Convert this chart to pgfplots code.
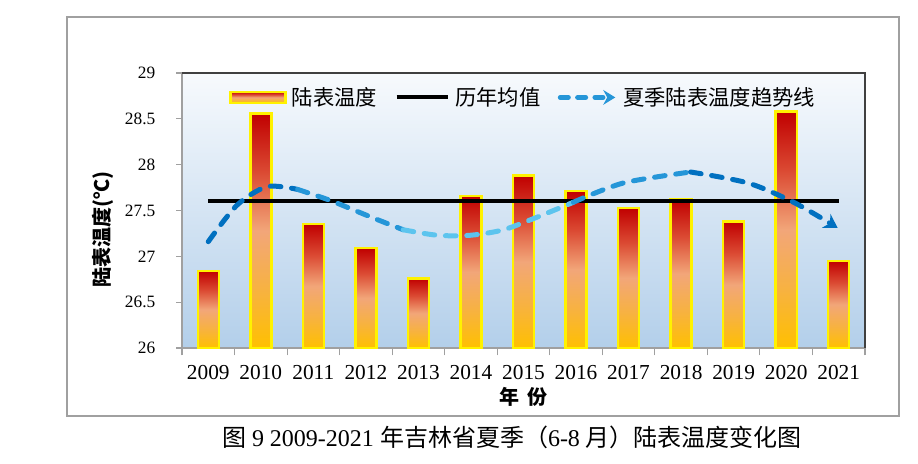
\documentclass[border=0pt]{standalone}
\usepackage{pgfplots}
\pgfplotsset{compat=1.18}
\usepackage{fontspec}
\setmainfont{Liberation Serif}
\newfontfamily\cjk{Noto Sans CJK SC}
\usetikzlibrary{arrows.meta}
\definecolor{barA}{HTML}{FFC000}
\definecolor{barB}{HTML}{F7B241}
\definecolor{barC}{HTML}{F2A679}
\definecolor{barD}{HTML}{DB4A33}
\definecolor{barE}{HTML}{C00000}
\definecolor{bgtop}{HTML}{F7FAFD}
\definecolor{bgbot}{HTML}{B3CFEA}
\definecolor{trA}{HTML}{0070C0}
\definecolor{trB}{HTML}{2596D8}
\definecolor{trC}{HTML}{5CC4EE}
\definecolor{axgray}{HTML}{A0A0A0}
\definecolor{axdark}{HTML}{404040}
\pgfdeclareverticalshading{barshade}{100bp}{color(0bp)=(barA); color(25bp)=(barA); color(37.5bp)=(barB); color(50bp)=(barC); color(62.5bp)=(barD); color(75bp)=(barE); color(100bp)=(barE)}
\pgfplotsset{mybar/.style={ybar, bar width=0.4, draw=yellow, line width=1.8pt, shade, shading=barshade, forget plot}}
\begin{document}
\begin{tikzpicture}
\begin{scope}[x=0.75pt,y=-0.75pt]
\draw[axgray, line width=1pt] (67,17) rectangle (899,416);
\node[font=\fontsize{18}{20}\selectfont, inner sep=0] at (512,437) {{\cjk 图} 9 2009-2021 {\cjk 年吉林省夏季（}6-8 {\cjk 月）陆表温度变化图}};
\end{scope}
\begin{axis}[
  at={(136.5pt,-261pt)}, anchor=south west,
  width=512.25pt, height=206.25pt, scale only axis,
  axis background/.style={shade, top color=bgtop, bottom color=bgbot},
  y coord trafo/.code={\pgfmathparse{#1-26}},
  y coord inv trafo/.code={\pgfmathparse{#1+26}},
  xmin=-0.5, xmax=12.5, ymin=26, ymax=29,
  xtick={0,...,12},
  xticklabels={2009,2010,2011,2012,2013,2014,2015,2016,2017,2018,2019,2020,2021},
  minor xtick={-0.5,0.5,...,12.5},
  ytick={26,26.5,27,27.5,28,28.5,29},
  yticklabels={26,26.5,27,27.5,28,28.5,29},
  /pgf/number format/assume math mode=true,
  axis line style={axgray, line width=0.8pt},
  every tick/.style={axgray, line width=0.8pt},
  major tick length=4.5pt,
  major x tick style={draw=none},
  minor tick length=5.5pt,
  tick align=outside,
  xtick pos=bottom, ytick pos=left,
  xticklabel style={font=\fontsize{16}{18}\selectfont, yshift=-5pt},
  yticklabel style={font=\fontsize{13}{15}\selectfont, xshift=-12pt},
  xlabel={\cjk\bfseries 年\hspace{0.45em}份},
  xlabel style={font=\fontsize{15}{17}\selectfont, at={(axis description cs:0.5,-0.178)}, anchor=center},
  ylabel={\cjk\bfseries 陆表温度(℃)},
  ylabel style={font=\fontsize{15}{17}\selectfont, at={(axis description cs:-0.1157,0.43)}, anchor=center},
  legend style={draw=none, fill=none, at={(0.5,0.968)}, anchor=north,
    font=\cjk\fontsize{16}{18}\selectfont,
    /tikz/every even column/.append style={column sep=11pt},
    /tikz/every odd column/.append style={column sep=2pt}},
  legend columns=3,
  clip=false,
]
\addplot[mybar, forget plot=false,
  legend image code/.code={\draw[shade, shading=barshade, draw=yellow, line width=1.8pt] (0cm,-0.15cm) rectangle (1.45cm,0.15cm);}]
coordinates {(0,26.84)};
\addlegendentry{陆表温度}
\addplot[mybar] coordinates {(1,28.56)};
\addplot[mybar] coordinates {(2,27.35)};
\addplot[mybar] coordinates {(3,27.09)};
\addplot[mybar] coordinates {(4,26.76)};
\addplot[mybar] coordinates {(5,27.66)};
\addplot[mybar] coordinates {(6,27.88)};
\addplot[mybar] coordinates {(7,27.71)};
\addplot[mybar] coordinates {(8,27.53)};
\addplot[mybar] coordinates {(9,27.62)};
\addplot[mybar] coordinates {(10,27.38)};
\addplot[mybar] coordinates {(11,28.58)};
\addplot[mybar] coordinates {(12,26.95)};
\addplot[black, line width=3pt, no marks,
  legend image code/.code={\draw[black, line width=3pt] (0cm,0cm) -- (1.35cm,0cm);}]
coordinates {(0,27.6) (12,27.6)};
\addlegendentry{历年均值}
\addplot[trA, line width=3.75pt, no marks, smooth, line cap=round, dash pattern=on 8pt off 8pt,
  legend image code/.code={\draw[trB, line width=3.75pt, line cap=round, dash pattern=on 6pt off 7pt, -{Stealth[length=9pt,width=11pt]}] (0cm,0cm) -- (1.45cm,0cm);}]
coordinates {(0,27.16) (0.55,27.56) (1.12,27.76) (1.7,27.73)};
\addlegendentry{夏季陆表温度趋势线}
\addplot[trB, line width=3.75pt, no marks, smooth, line cap=round, dash pattern=on 8pt off 8pt, forget plot]
coordinates {(1.7,27.73) (2.32,27.61) (3.09,27.43) (3.71,27.29)};
\addplot[trC, line width=3.75pt, no marks, smooth, line cap=round, dash pattern=on 8pt off 8pt, forget plot]
coordinates {(3.71,27.29) (4.36,27.23) (4.99,27.23) (5.62,27.29) (6.27,27.43) (6.95,27.59)};
\addplot[trB, line width=3.75pt, no marks, smooth, line cap=round, dash pattern=on 8pt off 8pt, forget plot]
coordinates {(6.95,27.59) (7.9,27.80) (9.18,27.92)};
\addplot[trA, line width=3.75pt, no marks, smooth, line cap=round, dash pattern=on 8pt off 8pt, forget plot, -{Stealth[length=10pt,width=12pt]}]
coordinates {(9.18,27.92) (10.27,27.80) (11.14,27.59) (11.98,27.31)};
\draw[axdark, line width=0.8pt] (rel axis cs:0,1) -- (rel axis cs:1,1) -- (rel axis cs:1,0);
\end{axis}
\pgfresetboundingbox
\begin{scope}[x=0.75pt,y=-0.75pt]
\path[use as bounding box] (0,0) rectangle (918,464);
\end{scope}
\end{tikzpicture}
\end{document}
